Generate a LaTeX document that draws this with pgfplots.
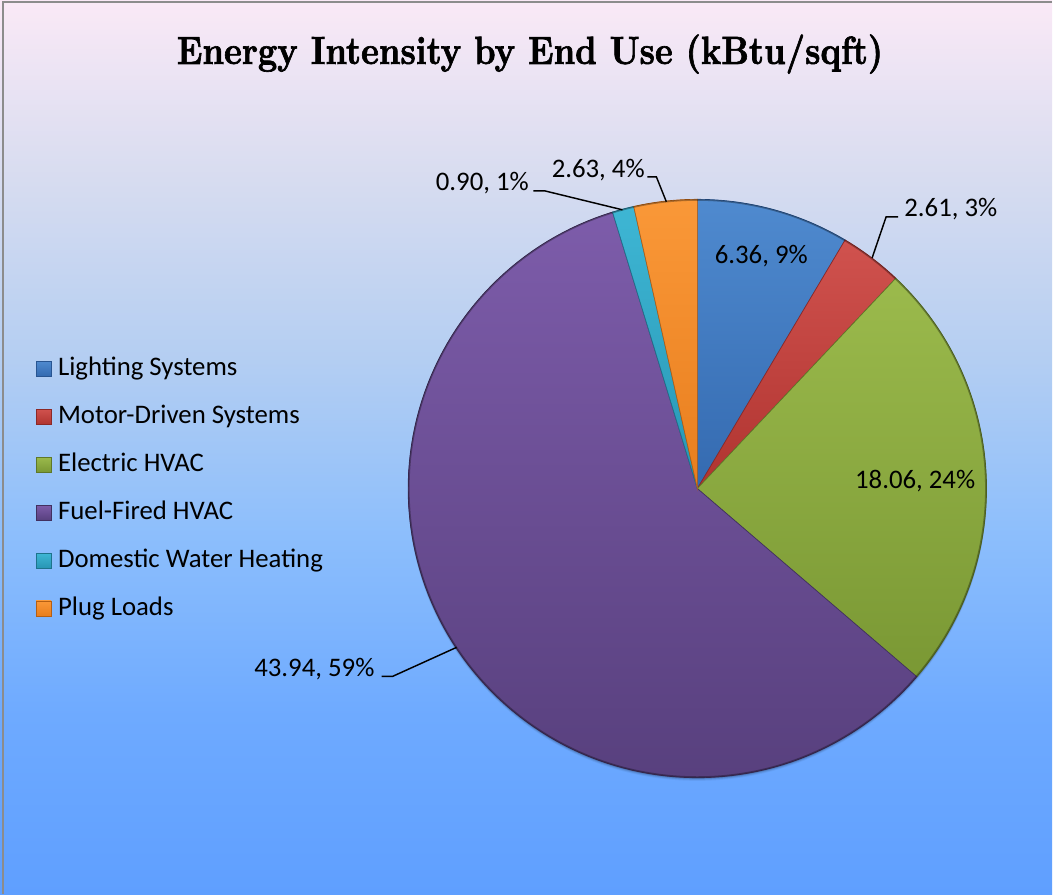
\documentclass[border=0pt]{standalone}
\usepackage{fontspec}
\setmainfont{Carlito}
\newfontfamily\titlefont[FakeStretch=0.86, FakeBold=1.6]{lmroman10-bold.otf}
\usepackage{pgfplots}
\usepackage{pgfplotstable}
\pgfplotsset{compat=1.18}

\pgfplotstableread{
idx value
0 6.36
1 2.61
2 18.06
3 43.94
4 0.90
5 2.63
}\enduse

\definecolor{bg0}{RGB}{95,159,255}
\definecolor{bg1}{RGB}{110,170,255}
\definecolor{bg2}{RGB}{140,190,252}
\definecolor{bg3}{RGB}{180,206,242}
\definecolor{bg4}{RGB}{215,220,240}
\definecolor{bg5}{RGB}{250,233,246}
\pgfdeclareverticalshading{bgshade}{100bp}{color(0bp)=(bg0); color(25bp)=(bg0); color(35bp)=(bg1); color(45bp)=(bg2); color(55bp)=(bg3); color(65bp)=(bg4); color(75bp)=(bg5); color(100bp)=(bg5)}

\definecolor{blueT}{RGB}{79,138,207}\definecolor{blueB}{RGB}{52,106,176}\definecolor{blueD}{RGB}{40,85,145}
\definecolor{redT}{RGB}{208,82,78}\definecolor{redB}{RGB}{176,52,48}\definecolor{redD}{RGB}{140,40,38}
\definecolor{greenT}{RGB}{155,186,76}\definecolor{greenB}{RGB}{122,152,52}\definecolor{greenD}{RGB}{95,120,40}
\definecolor{purpleT}{RGB}{125,92,170}\definecolor{purpleB}{RGB}{88,64,126}\definecolor{purpleD}{RGB}{65,48,95}
\definecolor{cyanT}{RGB}{62,182,212}\definecolor{cyanB}{RGB}{40,150,180}\definecolor{cyanD}{RGB}{30,115,140}
\definecolor{orangeT}{RGB}{250,152,56}\definecolor{orangeB}{RGB}{232,126,30}\definecolor{orangeD}{RGB}{180,95,20}

% cumulative angles of the slices (clockwise from 12 o'clock)
\gdef\tot{0}
\foreach \i in {0,...,5}{%
  \pgfplotstablegetelem{\i}{value}\of\enduse
  \pgfmathsetmacro\tmpt{\tot+\pgfplotsretval}%
  \global\let\tot\tmpt
}
\gdef\cum{0}
\foreach \i in {0,...,5}{%
  \pgfplotstablegetelem{\i}{value}\of\enduse
  \pgfmathsetmacro\tmpa{90-(\cum/\tot)*360}%
  \pgfmathsetmacro\tmpc{\cum+\pgfplotsretval}%
  \pgfmathsetmacro\tmpb{90-(\tmpc/\tot)*360}%
  \expandafter\xdef\csname sA\i\endcsname{\tmpa}%
  \expandafter\xdef\csname sB\i\endcsname{\tmpb}%
  \global\let\cum\tmpc
}
\newcommand\SA[1]{\csname sA#1\endcsname}
\newcommand\SB[1]{\csname sB#1\endcsname}

\begin{document}
\begin{tikzpicture}
\shade[shading=bgshade] (0,0) rectangle (789.75pt,671.25pt);
\foreach \k/\o in {1/0.14,2/0.09,3/0.05}
  \fill[black,opacity=\o] (523.5pt,{304.5pt-\k*0.75pt}) circle[radius=217.2pt];
\begin{axis}[
  at={(523.5pt,304.5pt)}, anchor=origin,
  x=217.125pt, y=217.125pt,
  xmin=-2.41105, xmax=1.22625, ymin=-1.40242, ymax=1.68912,
  hide axis, clip=false,
  every axis plot/.append style={line width=0.5pt, samples=120},
  legend cell align=left,
  legend image code/.code={\draw[#1, line width=0.4pt] (0pt,-5.6pt) rectangle (11.2pt,5.6pt);},
  legend style={at={(0.03419,0.6011)}, anchor=north west, draw=none, fill=none,
    inner sep=0pt, outer sep=0pt, row sep=18pt, column sep=5pt,
    font=\fontsize{20.1}{24}\selectfont,
    nodes={inner sep=0pt, text height=14pt, text depth=4pt},
    cells={anchor=west}},
]
\addplot[top color=blueT, bottom color=blueB, draw=blueD, domain=\SB{0}:\SA{0}] ({cos(x)},{sin(x)}) -- (axis cs:0,0) -- cycle;
\addlegendentry{Lighting Systems}
\addplot[top color=redT, bottom color=redB, draw=redD, domain=\SB{1}:\SA{1}] ({cos(x)},{sin(x)}) -- (axis cs:0,0) -- cycle;
\addlegendentry{Motor-Driven Systems}
\addplot[top color=greenT, bottom color=greenB, draw=greenD, domain=\SB{2}:\SA{2}] ({cos(x)},{sin(x)}) -- (axis cs:0,0) -- cycle;
\addlegendentry{Electric HVAC}
\addplot[top color=purpleT, bottom color=purpleB, draw=purpleD, domain=\SB{3}:\SA{3}] ({cos(x)},{sin(x)}) -- (axis cs:0,0) -- cycle;
\addlegendentry{Fuel-Fired HVAC}
\addplot[top color=cyanT, bottom color=cyanB, draw=cyanD, domain=\SB{4}:\SA{4}] ({cos(x)},{sin(x)}) -- (axis cs:0,0) -- cycle;
\addlegendentry{Domestic Water Heating}
\addplot[top color=orangeT, bottom color=orangeB, draw=orangeD, domain=\SB{5}:\SA{5}] ({cos(x)},{sin(x)}) -- (axis cs:0,0) -- cycle;
\addlegendentry{Plug Loads}

% outer rim
\draw[black, opacity=0.3, line width=1.2pt] (axis cs:0,0) circle[radius=216.6pt];

% title
\node[anchor=base, font=\titlefont\fontsize{29.5}{34}\selectfont] at (axis cs:-0.5786,1.4680) {Energy Intensity by End Use (kBtu/sqft)};

% data labels
\begin{scope}[every node/.style={font=\fontsize{20.1}{24}\selectfont, inner sep=0pt}]
\node at (axis cs:0.2211,0.8048) {6.36, 9\%};
\node at (axis cs:0.7530,0.0242) {18.06, 24\%};
\node[anchor=base west] at (axis cs:0.7150,0.9396) {2.61, 3\%};
\node[anchor=base west] at (axis cs:-0.5043,1.0743) {2.63, 4\%};
\node[anchor=base west] at (axis cs:-0.9050,1.0294) {0.90, 1\%};
\node[anchor=base east] at (axis cs:-1.1157,-0.6494) {43.94, 59\%};
\end{scope}
\begin{scope}[line width=1.1pt, black]
\draw (axis cs:0.6045,0.7979) -- (axis cs:0.6528,0.9396) -- (axis cs:0.6943,0.9396);
\draw (axis cs:-0.1727,1.0777) -- (axis cs:-0.1416,1.0777) -- (axis cs:-0.1071,0.9914);
\draw (axis cs:-0.5665,1.0294) -- (axis cs:-0.5285,1.0294) -- (axis cs:-0.2591,0.9637);
\draw (axis cs:-1.0915,-0.6494) -- (axis cs:-1.0535,-0.6494) -- (axis cs:-0.8325,-0.5492);
\end{scope}
\end{axis}
\draw[black!45, line width=1.5pt] (2.25pt,0pt) -- (2.25pt,669.75pt) -- (789.75pt,669.75pt);
\end{tikzpicture}
\end{document}
